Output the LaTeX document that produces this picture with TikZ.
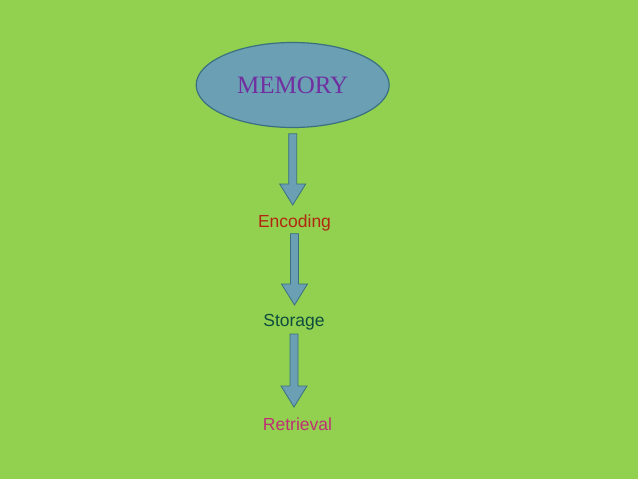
\documentclass[tikz,border=0pt]{standalone}
\usepackage{fontspec}
\setmainfont{Liberation Sans}
\newfontfamily\titlefont{Liberation Serif}
\usetikzlibrary{shapes.geometric, calc}

\definecolor{slidegreen}{RGB}{146,208,80}
\definecolor{bubblefill}{RGB}{106,159,180}
\definecolor{bubbleline}{RGB}{58,112,128}
\definecolor{titlepurple}{RGB}{112,48,160}
\definecolor{encodecol}{RGB}{178,40,14}
\definecolor{storecol}{RGB}{14,77,62}
\definecolor{retrievecol}{RGB}{192,48,118}

\begin{document}
\begin{tikzpicture}[x=1pt, y=-1pt,
  bubble/.style={ellipse, draw=bubbleline, fill=bubblefill, line width=1.2pt, minimum width=193pt, minimum height=85pt, inner sep=0pt},
  stage/.style={inner sep=0pt, font=\fontsize{17.5}{20}\selectfont},
  flow/.style={draw=bubbleline, fill=bubblefill, line width=0.8pt,
    to path={let \p1=(\tikztostart), \p2=(\tikztotarget) in
      (\x1-4pt,\y1) -- (\x1-4pt,\y2+21pt) -- (\x1-13pt,\y2+21pt) -- (\x1,\y2)
      -- (\x1+13pt,\y2+21pt) -- (\x1+4pt,\y2+21pt) -- (\x1+4pt,\y1) -- cycle}}
]

\fill[slidegreen] (0,0) rectangle (638,479);
\useasboundingbox (0,0) rectangle (638,479);

\node[bubble] (memory) at (292.7,85) {\titlefont\fontsize{25}{28}\selectfont\color{titlepurple}MEMORY};
\node[stage, text=encodecol] (encoding) at (294.5,222.7) {Encoding};
\node[stage, text=storecol] (storage) at (294,322.7) {Storage};
\node[stage, text=retrievecol] (retrieval) at (297.5,424) {Retrieval};

\draw[flow] ([yshift=-5.7pt]memory.south) to ([yshift=17.7pt]encoding.center);
\draw[flow] ([yshift=-11pt]encoding.center) to ([yshift=17.7pt]storage.center);
\draw[flow] ([yshift=-11.3pt]storage.center) to ([yshift=17pt]retrieval.center);

\end{tikzpicture}
\end{document}
